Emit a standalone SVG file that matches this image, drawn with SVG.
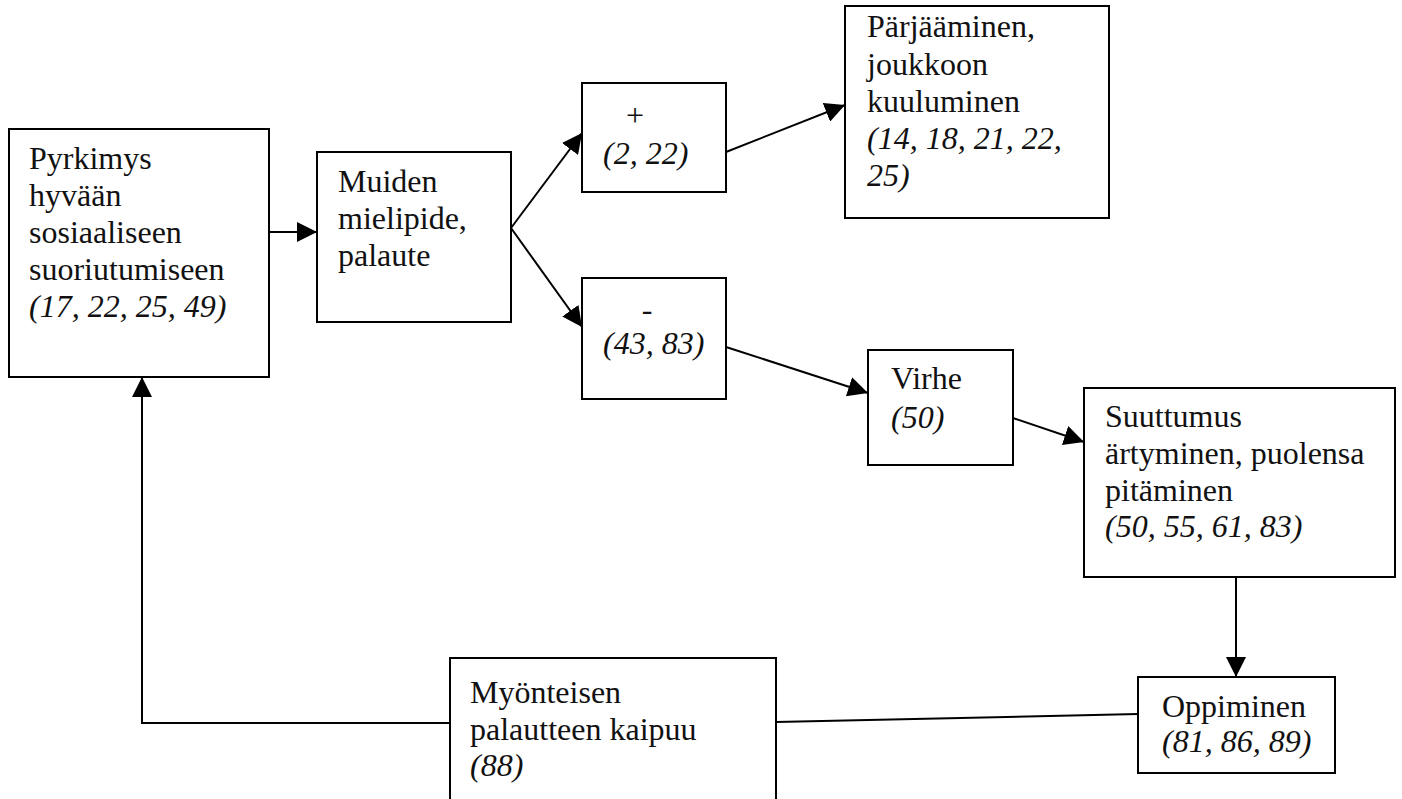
<svg xmlns="http://www.w3.org/2000/svg" width="1402" height="799" viewBox="0 0 1402 799">
  <style>
    .box { fill: #ffffff; stroke: #000000; stroke-width: 2; }
    .lbl { font-family: "Liberation Serif", "DejaVu Serif", serif; font-size: 32px; fill: #111111; }
    .ref { font-style: italic; }
    .edge { fill: none; stroke: #000000; stroke-width: 2; }
  </style>
  <defs>
    <marker id="arrow" markerUnits="userSpaceOnUse" markerWidth="20" markerHeight="20" refX="20" refY="10" orient="auto">
      <path d="M0,0 L20,10 L0,20 Z" fill="#000000"/>
    </marker>
  </defs>
  <rect width="1402" height="799" fill="#ffffff"/>

  <g id="connectors">
    <line class="edge" x1="269" y1="232" x2="317" y2="232" marker-end="url(#arrow)"/>
    <line class="edge" x1="511" y1="228" x2="582" y2="133" marker-end="url(#arrow)"/>
    <line class="edge" x1="511" y1="228" x2="582" y2="327" marker-end="url(#arrow)"/>
    <line class="edge" x1="726" y1="152" x2="845" y2="105" marker-end="url(#arrow)"/>
    <line class="edge" x1="726" y1="347" x2="868" y2="393" marker-end="url(#arrow)"/>
    <line class="edge" x1="1013" y1="418" x2="1084" y2="442" marker-end="url(#arrow)"/>
    <line class="edge" x1="1236" y1="577" x2="1236" y2="677" marker-end="url(#arrow)"/>
    <line class="edge" x1="1138" y1="714" x2="776" y2="722"/>
    <polyline class="edge" points="450,723 142,723 142,377" marker-end="url(#arrow)"/>
  </g>

  <g id="pyrkimys">
    <rect class="box" x="9" y="129" width="260" height="248"/>
    <text class="lbl" x="29" y="169">Pyrkimys</text>
    <text class="lbl" x="29" y="206">hyvään</text>
    <text class="lbl" x="29" y="243">sosiaaliseen</text>
    <text class="lbl" x="29" y="280">suoriutumiseen</text>
    <text class="lbl ref" x="29" y="317">(17, 22, 25, 49)</text>
  </g>

  <g id="muiden">
    <rect class="box" x="317" y="152" width="194" height="170"/>
    <text class="lbl" x="338" y="192">Muiden</text>
    <text class="lbl" x="338" y="229">mielipide,</text>
    <text class="lbl" x="338" y="266">palaute</text>
  </g>

  <g id="plus">
    <rect class="box" x="582" y="83" width="144" height="109"/>
    <text class="lbl" x="635" y="126" text-anchor="middle">+</text>
    <text class="lbl ref" x="603" y="164">(2, 22)</text>
  </g>

  <g id="minus">
    <rect class="box" x="582" y="278" width="144" height="121"/>
    <text class="lbl" x="647" y="320" text-anchor="middle">-</text>
    <text class="lbl ref" x="603" y="354">(43, 83)</text>
  </g>

  <g id="parjaaminen">
    <rect class="box" x="845" y="6" width="264" height="212"/>
    <text class="lbl" x="867" y="37">Pärjääminen,</text>
    <text class="lbl" x="867" y="75">joukkoon</text>
    <text class="lbl" x="867" y="112">kuuluminen</text>
    <text class="lbl ref" x="867" y="149">(14, 18, 21, 22,</text>
    <text class="lbl ref" x="867" y="186">25)</text>
  </g>

  <g id="virhe">
    <rect class="box" x="868" y="350" width="145" height="115"/>
    <text class="lbl" x="891" y="389">Virhe</text>
    <text class="lbl ref" x="891" y="428">(50)</text>
  </g>

  <g id="suuttumus">
    <rect class="box" x="1084" y="388" width="311" height="189"/>
    <text class="lbl" x="1105" y="427">Suuttumus</text>
    <text class="lbl" x="1105" y="464">ärtyminen, puolensa</text>
    <text class="lbl" x="1105" y="501">pitäminen</text>
    <text class="lbl ref" x="1105" y="537">(50, 55, 61, 83)</text>
  </g>

  <g id="oppiminen">
    <rect class="box" x="1138" y="677" width="197" height="96"/>
    <text class="lbl" x="1162" y="717">Oppiminen</text>
    <text class="lbl ref" x="1162" y="752">(81, 86, 89)</text>
  </g>

  <g id="myonteisen">
    <rect class="box" x="450" y="658" width="326" height="160"/>
    <text class="lbl" x="470" y="703">Myönteisen</text>
    <text class="lbl" x="470" y="740">palautteen kaipuu</text>
    <text class="lbl ref" x="470" y="776">(88)</text>
  </g>
</svg>
